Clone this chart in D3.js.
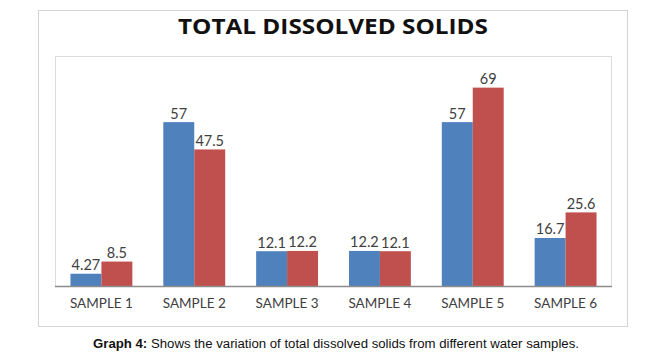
<!DOCTYPE html>
<html>
<head>
<meta charset="utf-8">
<script src="https://cdn.jsdelivr.net/npm/d3@7"></script>
<style>
html,body{margin:0;padding:0;background:#fff;}
svg{display:block;}
</style>
</head>
<body>
<svg id="chart" width="646" height="361"></svg>
<script>
const categories = ["SAMPLE 1","SAMPLE 2","SAMPLE 3","SAMPLE 4","SAMPLE 5","SAMPLE 6"];
const seriesNames = ["Series A","Series B"];
const seriesA = [4.27, 57, 12.1, 12.2, 57, 16.7];
const seriesB = [8.5, 47.5, 12.2, 12.1, 69, 25.6];
const labelsA = ["4.27","57","12.1","12.2","57","16.7"];
const labelsB = ["8.5","47.5","12.2","12.1","69","25.6"];
const yDomain = [0, 80];
const colors = ["#4F81BD", "#C0504D"];
const titleText = "TOTAL DISSOLVED SOLIDS";

const svg = d3.select("#chart");
const outer = {x0: 38.5, y0: 10.5, x1: 627.5, y1: 326.5};
const plot = {x0: 55, y0: 56, x1: 612, y1: 286};

svg.append("rect").attr("x", outer.x0).attr("y", outer.y0)
  .attr("width", outer.x1 - outer.x0).attr("height", outer.y1 - outer.y0)
  .attr("fill", "#fff").attr("stroke", "#d4d4d4").attr("stroke-width", 1);

svg.append("rect").attr("x", plot.x0 + 0.5).attr("y", plot.y0 + 0.5)
  .attr("width", plot.x1 - plot.x0 - 1).attr("height", plot.y1 - plot.y0)
  .attr("fill", "none").attr("stroke", "#dcdcdc").attr("stroke-width", 1);

const x0 = d3.scaleBand().domain(categories).range([plot.x0, plot.x1]).padding(0);
const x1 = d3.scaleBand().domain(seriesNames).range([0, x0.bandwidth()]).paddingInner(0).paddingOuter(0.5);
const y = d3.scaleLinear().domain(yDomain).range([plot.y1, plot.y0]);

const data = categories.map((c, i) => ({
  cat: c,
  vals: [
    {s: seriesNames[0], v: seriesA[i], l: labelsA[i], c: colors[0]},
    {s: seriesNames[1], v: seriesB[i], l: labelsB[i], c: colors[1]}
  ]
}));

const g = svg.append("g");
const groups = g.selectAll("g.cat").data(data).join("g")
  .attr("transform", d => `translate(${x0(d.cat)},0)`);

groups.selectAll("rect").data(d => d.vals).join("rect")
  .attr("x", d => x1(d.s))
  .attr("y", d => y(d.v))
  .attr("width", x1.bandwidth())
  .attr("height", d => y(0) - y(d.v))
  .attr("fill", d => d.c);

groups.selectAll("text").data(d => d.vals).join("text")
  .attr("x", d => x1(d.s) + x1.bandwidth() / 2)
  .attr("y", d => y(d.v) - 3.5)
  .attr("text-anchor", "middle")
  .attr("font-family", "Lato, 'Open Sans', sans-serif")
  .attr("font-size", 14.5)
  .attr("fill", "#404040")
  .text(d => d.l);

// x axis
const xAxis = d3.axisBottom(x0).tickSize(0).tickPadding(0);
const ax = svg.append("g").attr("transform", `translate(0,${plot.y1})`).call(xAxis);
ax.select(".domain").attr("stroke", "#8c8c8c").attr("stroke-width", 1.3)
  .attr("d", `M${plot.x0},0.5H${plot.x1}`);
ax.selectAll(".tick text")
  .attr("font-family", "Lato, 'Open Sans', sans-serif")
  .attr("font-size", 13.5)
  .attr("fill", "#404040")
  .attr("dy", 0).attr("y", 22);

// title
const t = svg.append("text")
  .attr("x", (outer.x0 + outer.x1) / 2 + 0)
  .attr("y", 33.5)
  .attr("text-anchor", "middle")
  .attr("font-family", "'Open Sans', Lato, sans-serif")
  .attr("font-weight", "bold")
  .attr("font-size", 21)
  .attr("fill", "#111")
  .attr("textLength", 310)
  .attr("lengthAdjust", "spacingAndGlyphs")
  .text(titleText);

// caption
const cap = svg.append("text")
  .attr("x", 336)
  .attr("y", 347.5)
  .attr("text-anchor", "middle")
  .attr("font-family", "'Liberation Sans', Arial, sans-serif")
  .attr("font-size", 12.5)
  .attr("fill", "#111")
  .attr("textLength", 486)
  .attr("lengthAdjust", "spacingAndGlyphs");
cap.append("tspan").attr("font-weight", "bold").text("Graph 4:");
cap.append("tspan").text(" Shows the variation of total dissolved solids from different water samples.");
</script>
</body>
</html>
